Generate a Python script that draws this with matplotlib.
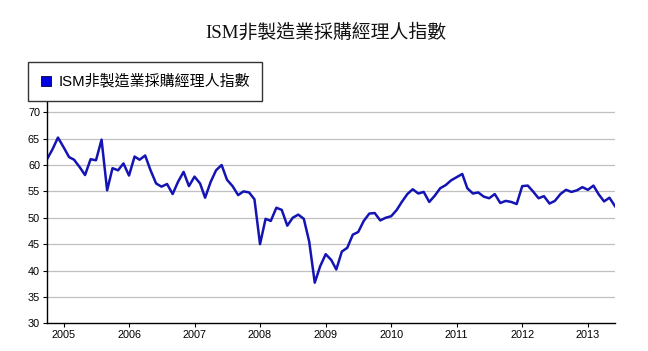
import matplotlib
matplotlib.use("Agg")
import matplotlib.pyplot as plt
import matplotlib.dates as mdates
from matplotlib.lines import Line2D
import pandas as pd

plt.rcParams["font.family"] = ["Liberation Sans", "Noto Sans CJK TC"]

title = "ISM非製造業採購經理人指數"
series_name = "ISM非製造業採購經理人指數"

# monthly index, Oct 2004 - Jun 2013
months = pd.date_range("2004-10-01", "2013-06-01", freq="MS")
values = [
    61.1, 63.0, 65.2,                                                  # 2004 Oct-Dec
    63.4, 61.5, 61.0, 59.6, 58.1, 61.1, 60.9, 64.8, 55.2, 59.4, 59.0, 60.3,  # 2005
    58.0, 61.6, 61.0, 61.8, 59.0, 56.5, 55.9, 56.4, 54.5, 56.8, 58.7, 56.0,  # 2006
    57.8, 56.5, 53.8, 56.8, 59.0, 60.0, 57.2, 56.0, 54.3, 55.0, 54.8, 53.5,  # 2007
    45.0, 49.8, 49.4, 51.9, 51.5, 48.5, 50.0, 50.6, 49.8, 45.5, 37.7, 40.8,  # 2008
    43.1, 42.0, 40.2, 43.6, 44.3, 46.8, 47.3, 49.4, 50.8, 50.9, 49.5, 50.0,  # 2009
    50.3, 51.5, 53.0, 54.5, 55.4, 54.6, 54.9, 53.0, 54.2, 55.6, 56.2, 57.1,  # 2010
    57.7, 58.3, 55.6, 54.6, 54.8, 54.0, 53.7, 54.5, 52.8, 53.2, 53.0, 52.6,  # 2011
    56.0, 56.1, 55.0, 53.7, 54.1, 52.7, 53.2, 54.5, 55.3, 54.9, 55.2, 55.8,  # 2012
    55.3, 56.1, 54.5, 53.1, 53.8, 52.2,                                # 2013 Jan-Jun
]
y_ticks = [30, 35, 40, 45, 50, 55, 60, 65, 70]

line_color = "#1414B4"

fig = plt.figure(figsize=(6.48, 3.51), dpi=100)
ax = fig.add_axes([47 / 648, 1 - 323.3 / 351, (615 - 47) / 648, 221.6 / 351])

ax.plot(months, values, color=line_color, lw=1.8, solid_joinstyle="round")

ax.set_xlim(months[0], months[-1])
ax.set_ylim(30, 72)
ax.set_yticks(y_ticks)
ax.xaxis.set_major_locator(mdates.YearLocator())
ax.xaxis.set_major_formatter(mdates.DateFormatter("%Y"))

for v in y_ticks[1:]:
    ax.axhline(v, color="#C0C0C0", lw=0.9, zorder=0)

for s in ["top", "right"]:
    ax.spines[s].set_visible(False)
for s in ["left", "bottom"]:
    ax.spines[s].set_linewidth(1.0)
    ax.spines[s].set_color("black")

ax.tick_params(axis="both", direction="out", length=3, width=0.8,
               labelsize=7.8, colors="black", pad=2)

fig.text(0.503, 1 - 33 / 351, title, ha="center", va="center", fontsize=13.6,
         color="#111111", family=["Liberation Serif", "Noto Sans CJK TC"])

handle = Line2D([], [], ls="none", marker="s", markersize=7,
                markerfacecolor="#0000E0", markeredgecolor="#000040",
                markeredgewidth=0.6)
leg = fig.legend([handle], [series_name], loc="upper left",
                 bbox_to_anchor=(28 / 648, 1 - 62 / 351), fontsize=10.8,
                 frameon=True, fancybox=False, handlelength=0.8,
                 handletextpad=0.45, borderpad=0.8, borderaxespad=0)
leg.get_frame().set_edgecolor("black")
leg.get_frame().set_linewidth(1.0)

fig.savefig("out.png", dpi=100)
